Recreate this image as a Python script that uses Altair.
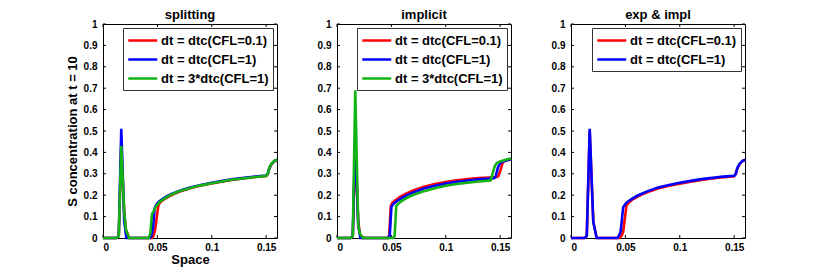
import altair as alt
import pandas as pd

FONT = "Liberation Sans"

# ---------------- data ----------------
XTICKS = [0, 0.05, 0.1, 0.15]
YTICKS = [0, 0.1, 0.2, 0.3, 0.4, 0.5, 0.6, 0.7, 0.8, 0.9, 1]

LABEL_01 = "dt = dtc(CFL=0.1)"
LABEL_1 = "dt = dtc(CFL=1)"
LABEL_3 = "dt = 3*dtc(CFL=1)"

# splitting
split_red_x = [0, 0.0125, 0.0145, 0.0168, 0.0195, 0.021, 0.024, 0.045, 0.0465, 0.048, 0.0495, 0.051, 0.053, 0.056, 0.06, 0.065, 0.07, 0.08, 0.09, 0.1, 0.11, 0.12, 0.13, 0.14, 0.15, 0.1515, 0.153, 0.155, 0.1575, 0.16]
split_red_y = [0, 0, 0.01, 0.43, 0.12, 0.04, 0, 0, 0.01, 0.04, 0.1, 0.155, 0.168, 0.18, 0.192, 0.205, 0.216, 0.232, 0.245, 0.255, 0.264, 0.272, 0.279, 0.285, 0.29, 0.298, 0.325, 0.345, 0.358, 0.365]
split_blue_x = [0, 0.0125, 0.0145, 0.0168, 0.0195, 0.0215, 0.043, 0.0445, 0.046, 0.0475, 0.049, 0.051, 0.054, 0.058, 0.063, 0.07, 0.08, 0.09, 0.1, 0.11, 0.12, 0.13, 0.14, 0.15, 0.1515, 0.153, 0.155, 0.1575, 0.16]
split_blue_y = [0, 0, 0.01, 0.51, 0.08, 0, 0, 0.01, 0.05, 0.14, 0.155, 0.168, 0.18, 0.193, 0.206, 0.22, 0.236, 0.248, 0.258, 0.267, 0.275, 0.281, 0.287, 0.292, 0.3, 0.328, 0.347, 0.359, 0.366]
split_green_x = [0, 0.0125, 0.0145, 0.0168, 0.0195, 0.021, 0.024, 0.042, 0.0435, 0.045, 0.047, 0.049, 0.052, 0.056, 0.06, 0.065, 0.07, 0.08, 0.09, 0.1, 0.11, 0.12, 0.13, 0.14, 0.15, 0.1515, 0.153, 0.155, 0.1575, 0.16]
split_green_y = [0, 0, 0.01, 0.43, 0.12, 0.04, 0, 0, 0.02, 0.11, 0.13, 0.15, 0.168, 0.183, 0.196, 0.208, 0.219, 0.234, 0.246, 0.256, 0.265, 0.273, 0.279, 0.285, 0.29, 0.3, 0.33, 0.348, 0.36, 0.366]

# implicit
impl_red_x = [0, 0.0125, 0.0145, 0.0168, 0.0195, 0.021, 0.024, 0.0465, 0.048, 0.0495, 0.051, 0.054, 0.058, 0.063, 0.07, 0.08, 0.09, 0.1, 0.11, 0.12, 0.13, 0.14, 0.147, 0.1485, 0.1505, 0.1525, 0.155, 0.16]
impl_red_y = [0, 0, 0.01, 0.42, 0.08, 0.02, 0, 0, 0.01, 0.15, 0.165, 0.178, 0.192, 0.206, 0.222, 0.24, 0.252, 0.262, 0.27, 0.276, 0.28, 0.283, 0.285, 0.29, 0.32, 0.355, 0.362, 0.367]
impl_blue_x = [0, 0.0125, 0.0145, 0.0168, 0.0195, 0.0215, 0.047, 0.0485, 0.05, 0.052, 0.055, 0.059, 0.064, 0.07, 0.08, 0.09, 0.1, 0.11, 0.12, 0.13, 0.14, 0.1445, 0.146, 0.148, 0.15, 0.1525, 0.156, 0.16]
impl_blue_y = [0, 0, 0.01, 0.47, 0.06, 0, 0, 0.01, 0.145, 0.16, 0.172, 0.185, 0.199, 0.213, 0.231, 0.244, 0.255, 0.263, 0.269, 0.274, 0.278, 0.279, 0.29, 0.33, 0.35, 0.358, 0.363, 0.368]
impl_green_x = [0, 0.0125, 0.0145, 0.0168, 0.0195, 0.021, 0.024, 0.0515, 0.053, 0.0545, 0.057, 0.06, 0.065, 0.07, 0.08, 0.09, 0.1, 0.11, 0.12, 0.13, 0.14, 0.1415, 0.143, 0.145, 0.147, 0.15, 0.155, 0.16]
impl_green_y = [0, 0, 0.01, 0.69, 0.06, 0.02, 0, 0, 0.01, 0.15, 0.163, 0.175, 0.19, 0.201, 0.219, 0.233, 0.244, 0.252, 0.258, 0.264, 0.268, 0.27, 0.3, 0.335, 0.35, 0.358, 0.366, 0.372]

# exp & impl
ei_red_x = [0, 0.0125, 0.0145, 0.0172, 0.0205, 0.0236, 0.0445, 0.0465, 0.048, 0.0495, 0.051, 0.053, 0.056, 0.06, 0.065, 0.07, 0.08, 0.09, 0.1, 0.11, 0.12, 0.13, 0.14, 0.15, 0.1515, 0.153, 0.155, 0.1575, 0.16]
ei_red_y = [0, 0, 0.01, 0.5, 0.075, 0, 0, 0.01, 0.029, 0.09, 0.152, 0.165, 0.178, 0.19, 0.203, 0.214, 0.231, 0.244, 0.254, 0.263, 0.271, 0.278, 0.284, 0.288, 0.298, 0.325, 0.345, 0.358, 0.365]
ei_blue_x = [0, 0.0125, 0.0145, 0.0172, 0.0205, 0.0236, 0.0425, 0.0435, 0.0456, 0.048, 0.0505, 0.0527, 0.056, 0.06, 0.065, 0.07, 0.08, 0.09, 0.1, 0.11, 0.12, 0.13, 0.14, 0.15, 0.1515, 0.153, 0.155, 0.1575, 0.16]
ei_blue_y = [0, 0, 0.01, 0.51, 0.075, 0, 0, 0.006, 0.029, 0.144, 0.162, 0.172, 0.183, 0.195, 0.207, 0.218, 0.236, 0.248, 0.258, 0.267, 0.275, 0.281, 0.287, 0.291, 0.3, 0.328, 0.347, 0.359, 0.366]

RED = "#ff0000"
BLUE = "#0000ff"
GREEN = "#12b312"

XMAX = 0.16
W, H = 174, 214
TLX = 3.0 / W * XMAX
TLY = 3.0 / H


def tick_frame():
    rows = []
    for t in XTICKS:
        rows.append({"x": t, "x2": t, "y": 0, "y2": TLY})
        rows.append({"x": t, "x2": t, "y": 1, "y2": 1 - TLY})
    for t in YTICKS:
        rows.append({"x": 0, "x2": TLX, "y": t, "y2": t})
        rows.append({"x": XMAX, "x2": XMAX - TLX, "y": t, "y2": t})
    return pd.DataFrame(rows)


def panel(title, series, first):
    names = [s[0] for s in series]
    colors = [s[1] for s in series]
    rows = []
    for name, _, xs, ys in series:
        for a, b in zip(xs, ys):
            rows.append({"series": name, "x": a, "y": b})
    df = pd.DataFrame(rows)

    xaxis = alt.Axis(values=XTICKS, format="~g", title="Space" if first else None,
                     ticks=False, domain=False, grid=False, labelPadding=4, titlePadding=1)
    yaxis = alt.Axis(values=YTICKS, format="~g",
                     title="S concentration at t = 10" if first else None,
                     ticks=False, domain=False, grid=False, labelPadding=6, titlePadding=4)
    xs = alt.Scale(domain=[0, XMAX], nice=False, zero=False)
    ys = alt.Scale(domain=[0, 1], nice=False, zero=False)

    color = alt.Color(
        "series:N",
        scale=alt.Scale(domain=names, range=colors),
        sort=names,
        title=None,
        legend=alt.Legend(
            orient="top-right", offset=4, padding=4,
            strokeColor="#333333", fillColor="white",
            symbolType="M-1,0H3", symbolSize=210, symbolStrokeWidth=2.5,
            labelFont=FONT, labelFontSize=13, labelFontWeight="bold",
            labelColor="black", rowPadding=3, labelOffset=17,
        ),
    )

    ticks = alt.Chart(tick_frame()).mark_rule(color="black", strokeWidth=1).encode(
        x=alt.X("x:Q", scale=xs, axis=xaxis),
        x2="x2",
        y=alt.Y("y:Q", scale=ys, axis=yaxis),
        y2="y2",
    )
    layers = [ticks]
    for name in names:
        layers.append(
            alt.Chart(df).transform_filter(alt.datum.series == name)
            .mark_line(strokeWidth=2.6)
            .encode(
                x=alt.X("x:Q", scale=xs, axis=xaxis),
                y=alt.Y("y:Q", scale=ys, axis=yaxis),
                color=color,
            )
        )
    return alt.layer(*layers).properties(
        width=W, height=H,
        title=alt.Title(title, fontSize=13, fontWeight="bold", font=FONT, offset=-3, color="black"),
    )


p1 = panel("splitting", [
    (LABEL_01, RED, split_red_x, split_red_y),
    (LABEL_1, BLUE, split_blue_x, split_blue_y),
    (LABEL_3, GREEN, split_green_x, split_green_y),
], True)
p2 = panel("implicit", [
    (LABEL_01, RED, impl_red_x, impl_red_y),
    (LABEL_1, BLUE, impl_blue_x, impl_blue_y),
    (LABEL_3, GREEN, impl_green_x, impl_green_y),
], False)
p3 = panel("exp & impl", [
    (LABEL_01, RED, ei_red_x, ei_red_y),
    (LABEL_1, BLUE, ei_blue_x, ei_blue_y),
], False)

chart = (
    alt.hconcat(p1, p2, p3, spacing=33)
    .resolve_scale(color="independent")
    .resolve_legend(color="independent")
    .properties(padding={"left": 57, "top": 0, "right": 5, "bottom": 0}, background="white")
    .configure_view(stroke="black", strokeWidth=1)
    .configure_axis(labelFont=FONT, labelFontSize=10, labelFontWeight="bold", labelColor="black",
                    titleFont=FONT, titleFontSize=13, titleFontWeight="bold", titleColor="black")
)

chart.save("out.html", embed_options={"renderer": "svg", "actions": False})
